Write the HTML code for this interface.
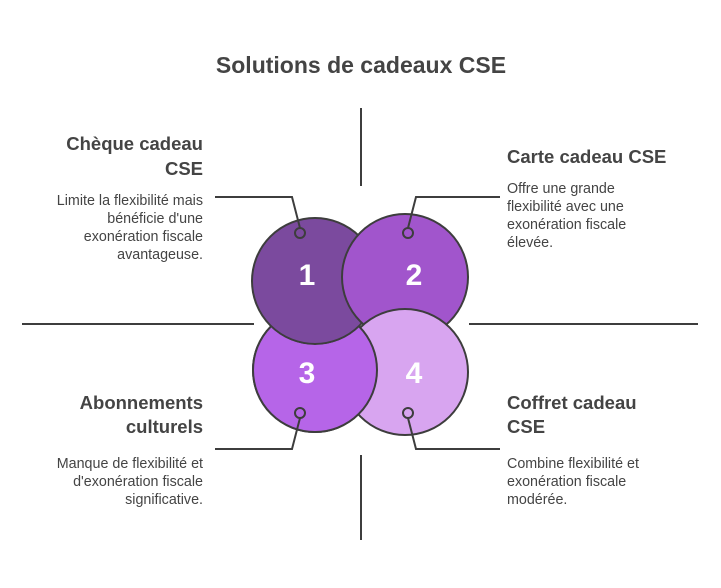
<!DOCTYPE html>
<html><head><meta charset="utf-8"><style>html,body{margin:0;padding:0;background:#fff}svg{display:block}</style></head>
<body>
<svg width="721" height="588" viewBox="0 0 721 588" xmlns="http://www.w3.org/2000/svg" font-family="'Liberation Sans', sans-serif">
<defs>
<mask id="m3" maskUnits="userSpaceOnUse" x="0" y="0" width="721" height="588">
<rect x="0" y="322" width="721" height="266" fill="#fff"/>
<circle cx="315" cy="281" r="64" fill="#000"/>
</mask>
</defs>
<text x="361" y="73" text-anchor="middle" font-size="23" font-weight="bold" fill="#444">Solutions de cadeaux CSE</text>
<g stroke="#3d3d3d" stroke-width="2" fill="none">
<line x1="361" y1="108" x2="361" y2="186"/>
<line x1="361" y1="455" x2="361" y2="540"/>
<line x1="22" y1="324" x2="254" y2="324"/>
<line x1="469" y1="324" x2="698" y2="324"/>
</g>
<g stroke="#3d3d3d" stroke-width="2">
<circle cx="315" cy="370" r="62" fill="#b665e8"/>
<circle cx="315" cy="281" r="63" fill="#7b4a9e"/>
<circle cx="405" cy="277" r="63" fill="#a155cc"/>
<circle cx="405" cy="372" r="63" fill="#d8a5f0"/>
<circle cx="315" cy="370" r="62" fill="#b665e8" mask="url(#m3)"/>
</g>
<g font-size="30" font-weight="bold" fill="#fff" text-anchor="middle">
<text x="307" y="285">1</text><text x="414" y="285">2</text>
<text x="307" y="383">3</text><text x="414" y="383">4</text>
</g>
<g stroke="#3d3d3d" stroke-width="2" fill="none">
<polyline points="300,228 292,197 215,197"/>
<polyline points="408,228 416,197 500,197"/>
<polyline points="300,418 292,449 215,449"/>
<polyline points="408,418 416,449 500,449"/>
<circle cx="300" cy="233" r="5"/><circle cx="408" cy="233" r="5"/>
<circle cx="300" cy="413" r="5"/><circle cx="408" cy="413" r="5"/>
</g>
<g fill="#444">
<g font-size="18.5" font-weight="bold" text-anchor="end">
<text x="203" y="150">Chèque cadeau</text><text x="203" y="175">CSE</text>
<text x="203" y="409">Abonnements</text><text x="203" y="433">culturels</text>
</g>
<g font-size="14.3" text-anchor="end">
<text x="203" y="205">Limite la flexibilité mais</text>
<text x="203" y="223">bénéficie d'une</text>
<text x="203" y="241">exonération fiscale</text>
<text x="203" y="259">avantageuse.</text>
<text x="203" y="468">Manque de flexibilité et</text>
<text x="203" y="486">d'exonération fiscale</text>
<text x="203" y="504">significative.</text>
</g>
<g font-size="18.5" font-weight="bold">
<text x="507" y="163">Carte cadeau CSE</text>
<text x="507" y="409">Coffret cadeau</text><text x="507" y="433">CSE</text>
</g>
<g font-size="14.3">
<text x="507" y="193">Offre une grande</text>
<text x="507" y="211">flexibilité avec une</text>
<text x="507" y="229">exonération fiscale</text>
<text x="507" y="247">élevée.</text>
<text x="507" y="468">Combine flexibilité et</text>
<text x="507" y="486">exonération fiscale</text>
<text x="507" y="504">modérée.</text>
</g>
</g>
</svg>
</body></html>
